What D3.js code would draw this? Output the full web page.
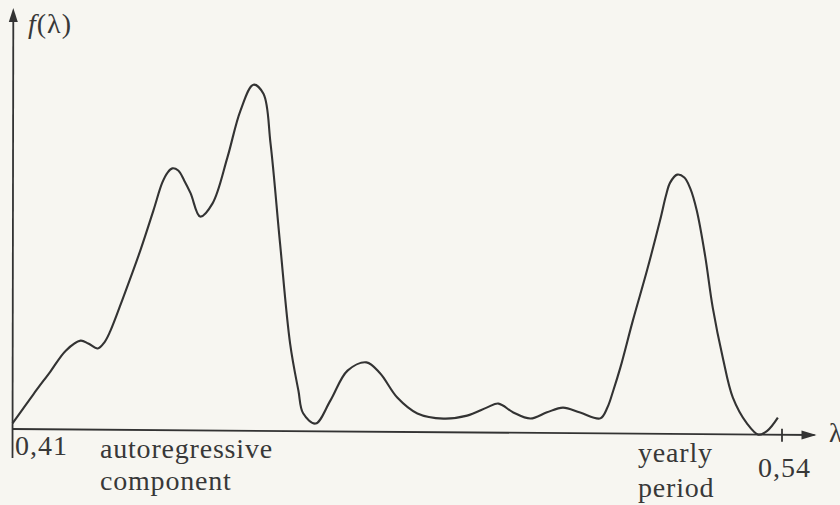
<!DOCTYPE html>
<html>
<head>
<meta charset="utf-8">
<script src="https://cdn.jsdelivr.net/npm/d3@7"></script>
<style>
  html, body { margin: 0; padding: 0; background: #f7f6f1; }
  svg { display: block; }
  text { font-family: "Liberation Serif", "DejaVu Serif", serif; fill: #383838; }
</style>
</head>
<body>
<svg id="chart" width="840" height="505"></svg>
<script>
// Frequency λ and spectral density f(λ) (arbitrary units)
const lambda = [0.4100, 0.4135, 0.4164, 0.4190, 0.4215, 0.4228, 0.4244, 0.4255, 0.4265, 0.4287,
                0.4316, 0.4338, 0.4353, 0.4362, 0.4370, 0.4380, 0.4390, 0.4401, 0.4417, 0.4438,
                0.4463, 0.4485, 0.4507, 0.4524, 0.4536, 0.4552, 0.4569, 0.4583, 0.4591, 0.4612,
                0.4637, 0.4666, 0.4698, 0.4721, 0.4750, 0.4784, 0.4828, 0.4868, 0.4902, 0.4921,
                0.4946, 0.4975, 0.5003, 0.5030, 0.5059, 0.5093, 0.5105, 0.5115, 0.5127, 0.5148,
                0.5172, 0.5194, 0.5204, 0.5211, 0.5223, 0.5235, 0.5245, 0.5256, 0.5270, 0.5283,
                0.5300, 0.5317, 0.5341, 0.5360, 0.5375, 0.5393];
const density = [0.16, 0.99, 1.65, 2.25, 2.54, 2.46, 2.32, 2.49, 2.81, 3.78,
                 5.13, 6.27, 7.07, 7.36, 7.48, 7.42, 7.14, 6.77, 6.11, 6.49,
                 7.80, 9.14, 9.89, 9.63, 8.20, 5.36, 2.50, 1.16, 0.51, 0.22,
                 0.88, 1.74, 1.98, 1.67, 0.98, 0.53, 0.39, 0.48, 0.72, 0.83,
                 0.58, 0.41, 0.59, 0.73, 0.59, 0.43, 0.74, 1.23, 1.89, 3.23,
                 4.67, 6.10, 6.81, 7.18, 7.41, 7.33, 7.02, 6.39, 5.11, 3.62,
                 2.19, 1.05, 0.31, 0.00, 0.11, 0.49];
const xDomain = [0.41, 0.54];
const tickLabels = ["0,41", "0,54"];
const yLabel = "f";
const xLabel = "λ";
const annotations = [
  { lines: ["autoregressive", "component"] },
  { lines: ["yearly", "period"] }
];

const svg = d3.select("#chart");
const ink = "#333333";
const x0 = 12.5, y0 = 429;

const x = d3.scaleLinear().domain(xDomain).range([0, 769.5]);
const y = d3.scaleLinear().domain([0, 10]).range([0, -350]);

// skew reproduces the slight tilt of the scanned page
const g = svg.append("g").attr("transform", `translate(${x0},${y0}) skewY(0.43)`);

// x axis with arrow
g.append("line").attr("x1", 0).attr("y1", 0).attr("x2", 802).attr("y2", 0)
  .attr("stroke", ink).attr("stroke-width", 1.8);
g.append("path").attr("d", "M789,-4.5 L804,0 L789,4.5 Z").attr("fill", ink);
// tick at 0.54
g.append("line").attr("x1", x(xDomain[1])).attr("x2", x(xDomain[1]))
  .attr("y1", -6).attr("y2", 7).attr("stroke", ink).attr("stroke-width", 1.8);

// curve
const data = lambda.map((l, i) => [l, density[i]]);
g.append("path").datum(data)
  .attr("fill", "none").attr("stroke", ink).attr("stroke-width", 2.1)
  .attr("stroke-linejoin", "round")
  .attr("d", d3.line().x(d => x(d[0])).y(d => y(d[1])).curve(d3.curveCatmullRom.alpha(0.5)));

// y axis with arrow (drawn unskewed)
svg.append("line").attr("x1", x0).attr("y1", 458).attr("x2", x0 + 0.8).attr("y2", 16)
  .attr("stroke", ink).attr("stroke-width", 1.8);
svg.append("path").attr("d", `M${x0 + 0.8 - 4.5},22 L${x0 + 0.8},8 L${x0 + 0.8 + 4.5},22 Z`).attr("fill", ink);

// axis labels
const yl = svg.append("text").attr("x", 28).attr("y", 33).attr("font-size", 28).attr("letter-spacing", 1);
yl.append("tspan").attr("font-style", "italic").text(yLabel);
yl.append("tspan").text("(" + xLabel + ")");
svg.append("text").attr("x", 829).attr("y", 442).attr("font-size", 27).text(xLabel);

// tick labels
svg.append("text").attr("x", 15).attr("y", 455).attr("font-size", 28).attr("letter-spacing", 1).text(tickLabels[0]);
svg.append("text").attr("x", 758).attr("y", 477).attr("font-size", 28).attr("letter-spacing", 1).text(tickLabels[1]);

// annotations
const ann = [
  { x: 100, ys: [458, 490] },
  { x: 638, ys: [462, 497] }
];
annotations.forEach((a, i) => {
  a.lines.forEach((t, j) => {
    svg.append("text").attr("x", ann[i].x).attr("y", ann[i].ys[j])
      .attr("font-size", 28).attr("letter-spacing", 0.8).text(t);
  });
});
</script>
</body>
</html>
